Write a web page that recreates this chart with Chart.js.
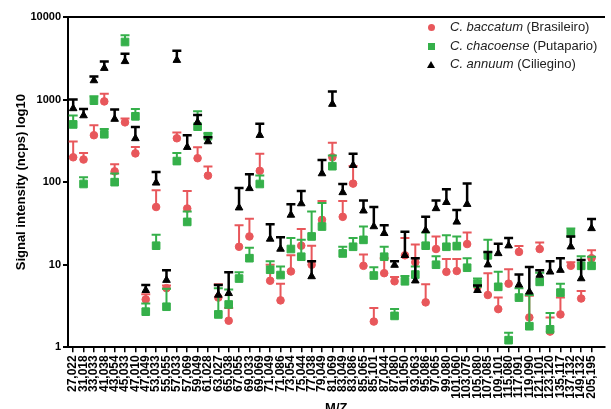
<!DOCTYPE html>
<html><head><meta charset="utf-8">
<script src="https://cdn.jsdelivr.net/npm/chart.js@4/dist/chart.umd.min.js"></script>
<style>
html,body{margin:0;padding:0;overflow:hidden;background:#fff;}
#wrap{position:relative;width:611px;height:424px;}
#legend{position:absolute;left:424px;top:18px;font:13px Arial,'Liberation Sans',sans-serif;color:#222;}
.row{height:18.5px;line-height:18.5px;white-space:nowrap;position:relative;padding-left:26px;}
.mk{position:absolute;}
.circle{left:3.5px;top:6px;width:7px;height:7px;border-radius:50%;}
.square{left:3.5px;top:6px;width:7px;height:7px;}
.tri{left:3px;top:5.5px;width:0;height:0;border-left:4px solid transparent;border-right:4px solid transparent;border-bottom:7px solid #000;}
</style></head>
<body>
<div id="wrap"><canvas id="c" width="611" height="424"></canvas><div id="legend"></div></div>
<script>
const mzLabels = ['27,022','31,018','33,033','41,038','43,054','45,033','47,010','47,049','53,033','55,055','57,033','57,069','59,049','61,028','63,027','65,038','67,055','69,033','69,069','71,049','71,086','73,054','75,044','77,038','79,049','81,069','83,049','83,086','85,065','85,101','87,044','87,080','91,050','93,063','95,086','97,065','99,080','101,060','103,075','105,080','107,085','109,101','115,080','117,091','119,090','121,101','123,120','135,117','137,132','149,132','205,195'];

const yTicks = [1, 10, 100, 1000, 10000];

const seriesSpecies = ['C. baccatum', 'C. chacoense', 'C. annuum'];
const seriesCultivars = ['(Brasileiro)', '(Putapario)', '(Ciliegino)'];
const seriesColors = ['#E8575B', '#35B04A', '#000000'];

const baccatumMean  = [200,188,370,950,135,530,223,3.8,50,5.2,340,48,195,120,4.0,2.1,16.5,22,137,6.4,3.7,8.3,17,10,35,200,38,96,9.7,2.05,7.9,6.3,13,10.7,3.5,15.5,8.2,8.4,17.8,5.4,4.3,2.9,5.9,14.3,2.3,15.5,1.55,2.5,9.7,3.9,12];
const baccatumUpper = [310,225,490,1180,165,590,267,4.4,80,5.6,400,78,265,155,5.8,3.0,30,36,220,10,5.9,13,27,17,59,300,59,157,13.3,3.0,12,7.1,21,17.6,5.8,22,11.7,11.7,24.6,5.7,7.9,4.0,8.8,16.8,4.2,18.6,2.3,4.0,10.7,4.8,15];

const chacoenseMean  = [500,95,970,380,100,4980,627,2.7,17,3.1,180,33,470,360,2.5,3.3,6.8,12,95,8.7,7.5,15.5,12.5,22,29,156,13.7,16.5,20,7.4,12.5,2.4,6.3,7.6,17,10,16.5,16.8,9.2,5.9,13,5.4,1.22,4.0,1.8,6.2,1.65,4.6,24,9.7,9.7];
const chacoenseUpper = [640,115,1100,440,127,6000,770,3.4,23,5.1,225,44,720,390,5.2,5.0,8.1,16,120,11,9.5,21,20,44,56,210,16.5,21,29,9.3,16.5,2.9,7.3,9.5,24.6,12.7,22.8,22,12,6.8,20,8.2,1.5,5.2,4.3,8.0,2.6,5.9,27.5,12.7,12.5];

const annuumMean  = [780,640,1700,2400,580,2900,338,4.9,98,6.5,3000,265,530,310,4.3,4.5,49,84,370,20.5,15.5,40,55,7.2,127,880,75,160,45,29,24,9.9,13,6.4,26,48,57,33,54,4.9,10,13.7,17,5.7,4.7,7.5,8.2,8.6,16.5,6.8,27.5];
const annuumUpper = [1000,770,1900,2900,760,3600,467,5.7,133,8.6,3900,370,650,350,5.7,8.1,85,125,510,31,21.5,54,78,11,185,1250,95,220,60,50,30,11,25,12,38,60,82,46,96,5.6,14.3,18,21,7.6,9.4,8.6,11,12,22,11.4,35.7];

const FONT = "Arial, 'Liberation Sans', sans-serif";
const toPts = arr => arr.map((v, i) => ({x: i, y: v}));

const errorBars = {
  id: 'errorBars',
  beforeDatasetDraw(chart, args) {
    const ds = chart.data.datasets[args.index];
    if (!ds.upper) return;
    const ys = chart.scales.y;
    const ctx = chart.ctx;
    ctx.save();
    ctx.strokeStyle = ds.errColor;
    ctx.lineWidth = ds.errWidth;
    args.meta.data.forEach((el, i) => {
      const up = ds.upper[i];
      if (up == null) return;
      const yt = ys.getPixelForValue(up);
      ctx.beginPath();
      ctx.moveTo(el.x, el.y);
      ctx.lineTo(el.x, yt);
      ctx.moveTo(el.x - ds.capHalf, yt);
      ctx.lineTo(el.x + ds.capHalf, yt);
      ctx.stroke();
    });
    ctx.restore();
  }
};

const means = [baccatumMean, chacoenseMean, annuumMean];
const uppers = [baccatumUpper, chacoenseUpper, annuumUpper];
const styles = [
  {pointStyle: 'circle', pointRadius: 3.8, errWidth: 2, capHalf: 4.5, order: 3},
  {pointStyle: 'rect', pointRadius: 5.4, errWidth: 2, capHalf: 4.5, order: 2},
  {pointStyle: 'triangle', pointRadius: 4.4, errWidth: 2.5, capHalf: 4.5, order: 1}
];

const datasets = means.map((m, k) => ({
  label: seriesSpecies[k] + ' ' + seriesCultivars[k],
  data: toPts(m),
  upper: uppers[k],
  order: styles[k].order,
  pointStyle: styles[k].pointStyle,
  pointRadius: styles[k].pointRadius,
  pointHoverRadius: styles[k].pointRadius,
  backgroundColor: seriesColors[k],
  borderColor: seriesColors[k],
  borderWidth: 1,
  errColor: seriesColors[k],
  errWidth: styles[k].errWidth,
  capHalf: styles[k].capHalf,
  xAxisID: 'x',
  yAxisID: 'y'
}));

new Chart(document.getElementById('c'), {
  type: 'scatter',
  data: {datasets},
  options: {
    responsive: false,
    animation: false,
    devicePixelRatio: 1,
    layout: {padding: {left: 10, top: 17, right: 0, bottom: 4}},
    plugins: {legend: {display: false}, tooltip: {enabled: false}},
    scales: {
      x: {
        type: 'linear', position: 'bottom', min: -0.5, max: 51.26, bounds: 'data',
        afterBuildTicks(s) { s.ticks = mzLabels.map((_, i) => ({value: i})); },
        afterFit(s) { s.height = 72.7; },
        ticks: {autoSkip: false, minRotation: 90, maxRotation: 90, padding: 3, color: '#000',
          font: {family: FONT, size: 12, weight: 'bold'}, callback: v => mzLabels[v]},
        grid: {drawOnChartArea: false, drawTicks: true, tickLength: 5, color: '#000', lineWidth: 1.5},
        border: {display: true, color: '#000', width: 2},
        title: {display: true, text: 'M/Z', color: '#000', font: {family: FONT, size: 13, weight: 'bold'}, padding: {top: 4, bottom: 4}}
      },
      xTop: {
        type: 'linear', position: 'top', min: -0.5, max: 51.26, bounds: 'data',
        afterFit(s) { s.height = 0; },
        ticks: {display: false},
        grid: {display: true, drawOnChartArea: false, drawTicks: false},
        border: {display: true, color: '#000', width: 2}
      },
      y: {
        type: 'logarithmic', min: 1, max: 10000,
        afterBuildTicks(s) { s.ticks = yTicks.map(v => ({value: v, major: true})); },
        afterFit(s) { s.width = 58; },
        ticks: {autoSkip: false, padding: 2, color: '#000', font: {family: FONT, size: 11, weight: 'bold'}, callback: v => String(v)},
        grid: {drawOnChartArea: false, tickLength: 5, color: '#000', lineWidth: 2},
        border: {display: true, color: '#000', width: 2},
        title: {display: true, text: 'Signal intensity (ncps) log10', color: '#000', font: {family: FONT, size: 13, weight: 'bold'}, padding: {top: 4, bottom: 4}}
      }
    }
  },
  plugins: [errorBars]
});

const markerClass = ['circle', 'square', 'tri'];
const legend = document.getElementById('legend');
seriesSpecies.forEach((sp, k) => {
  const row = document.createElement('div');
  row.className = 'row';
  const mk = document.createElement('span');
  mk.className = 'mk ' + markerClass[k];
  if (k < 2) mk.style.background = seriesColors[k];
  row.appendChild(mk);
  const it = document.createElement('i');
  it.textContent = sp;
  row.appendChild(it);
  row.appendChild(document.createTextNode(' ' + seriesCultivars[k]));
  legend.appendChild(row);
});
</script>
</body></html>
